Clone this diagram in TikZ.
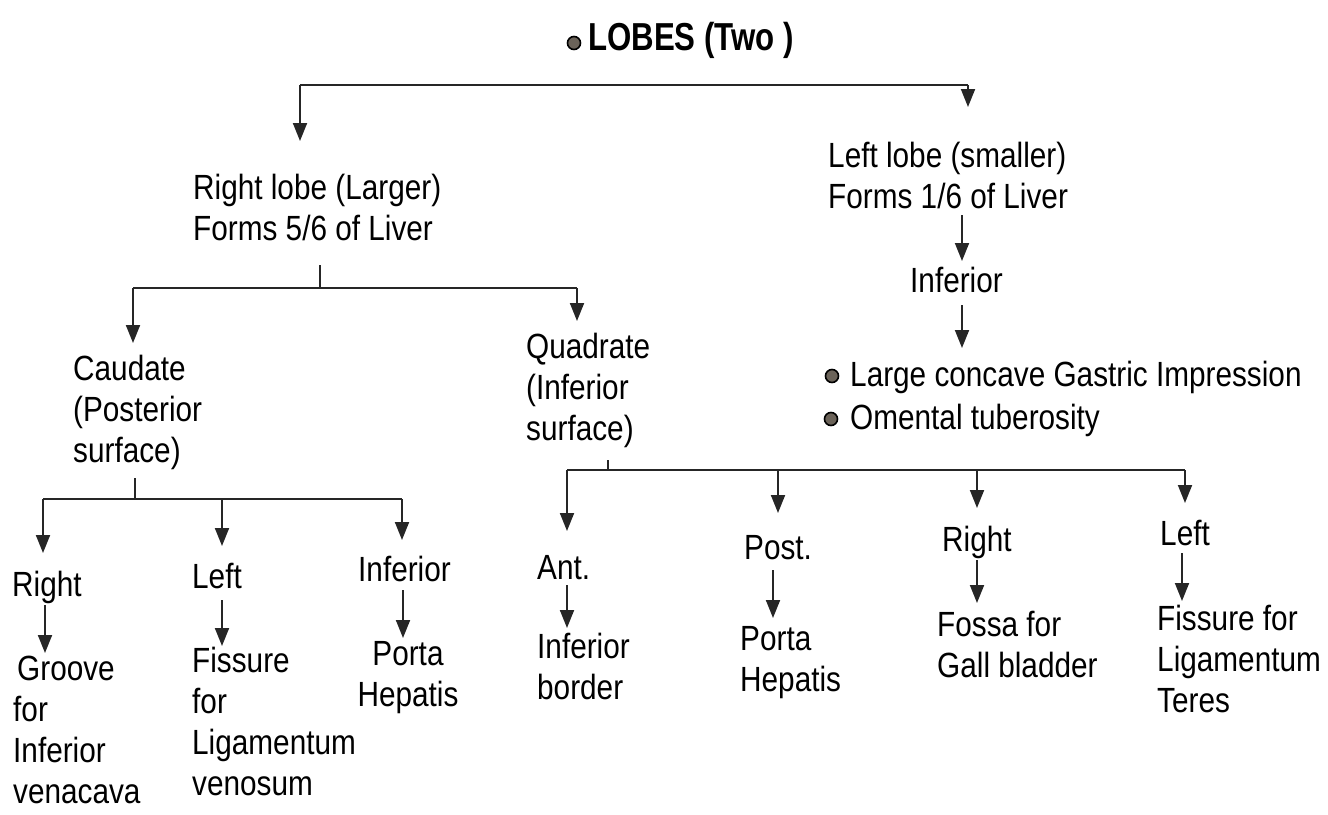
\documentclass[tikz,border=0pt]{standalone}
\usepackage{fontspec}
\setmainfont[FakeStretch=0.85]{Liberation Sans}
\newfontfamily\titlefont[FakeStretch=0.8]{Liberation Sans}
\usetikzlibrary{arrows.meta}
\definecolor{dotgrey}{rgb}{0.42,0.39,0.35}
\begin{document}
\begin{tikzpicture}[x=1pt,y=-1pt,
  txt/.style={anchor=north west, inner sep=0pt, align=left, font=\fontsize{35}{41}\selectfont},
  ctxt/.style={txt, anchor=north, align=center},
  conn/.style={line width=1.9pt, draw=black!85},
  arr/.style={conn, -{Triangle[length=18pt,width=14pt]}},
  dot/.style={circle, draw=black, line width=1.6pt, fill=dotgrey, minimum size=13pt, inner sep=0pt}]
\useasboundingbox (0,0) rectangle (1328,814);

% ---------- top ----------
\node[dot] (lobesdot) at (574,43) {};
\node[anchor=west, inner sep=0pt, font=\titlefont\bfseries\fontsize{39}{41}\selectfont] (lobes) at (588,40) {LOBES (Two )};
\coordinate (t1) at (300,85);
\coordinate (t2) at (968,85);
\coordinate (t1e) at (300,141);
\coordinate (t2e) at (968,107);
\draw[conn] (t1) -- (t2);
\draw[arr] (t1) -- (t1e);
\draw[arr] (t2) -- (t2e);

% ---------- lobes ----------
\node[txt] (rl) at (193,174) {Right lobe (Larger)\\Forms 5/6 of Liver};
\node[txt] (ll) at (828,142) {Left lobe (smaller)\\Forms 1/6 of Liver};

% ---------- left lobe branch ----------
\coordinate (la1) at (962,215);
\coordinate (la1e) at (962,261);
\draw[arr] (la1) -- (la1e);
\node[txt] (linf) at (910,267) {Inferior};
\coordinate (la2) at (962,305);
\coordinate (la2e) at (962,348);
\draw[arr] (la2) -- (la2e);
\node[dot] (d1) at (832,376) {};
\node[txt, anchor=west] (g1) at (850,377) {Large concave Gastric Impression};
\node[dot] (d2) at (831,419) {};
\node[txt, anchor=west] (g2) at (850,420) {Omental tuberosity};

% ---------- right lobe branch ----------
\coordinate (rs1) at (320,265);
\coordinate (rs2) at (320,288);
\coordinate (rb1) at (133,288);
\coordinate (rb2) at (577,288);
\coordinate (rb1e) at (133,343);
\coordinate (rb2e) at (577,321);
\draw[conn] (rs1) -- (rs2);
\draw[conn] (rb1) -- (rb2);
\draw[arr] (rb1) -- (rb1e);
\draw[arr] (rb2) -- (rb2e);

\node[txt] (cau) at (73,355) {Caudate\\(Posterior\\surface)};
\node[txt] (quad) at (526,333) {Quadrate\\(Inferior\\surface)};

% ---------- caudate branch ----------
\coordinate (cs1) at (135,478);
\coordinate (cs2) at (135,499);
\coordinate (cb1) at (43,499);
\coordinate (cb2) at (222,499);
\coordinate (cb3) at (402,499);
\coordinate (cb1e) at (43,553);
\coordinate (cb2e) at (222,546);
\coordinate (cb3e) at (402,540);
\draw[conn] (cs1) -- (cs2);
\draw[conn] (cb1) -- (cb3);
\draw[arr] (cb1) -- (cb1e);
\draw[arr] (cb2) -- (cb2e);
\draw[arr] (cb3) -- (cb3e);

\node[txt] (cr) at (12,571) {Right};
\node[txt] (cl) at (192,563) {Left};
\node[txt] (ci) at (358,556) {Inferior};

\coordinate (ca1) at (45,605);   \coordinate (ca1e) at (45,653);
\coordinate (ca2) at (222,600);  \coordinate (ca2e) at (222,646);
\coordinate (ca3) at (403,590);  \coordinate (ca3e) at (403,638);
\draw[arr] (ca1) -- (ca1e);
\draw[arr] (ca2) -- (ca2e);
\draw[arr] (ca3) -- (ca3e);

\node[txt] (groove) at (13,656) {\hspace*{4pt}Groove\\for\\Inferior\\venacava};
\node[txt] (fisv) at (192,647) {Fissure\\for\\Ligamentum\\venosum};
\node[ctxt] (porta1) at (408,641) {Porta\\Hepatis};

% ---------- quadrate branch ----------
\coordinate (qs1) at (608,460);
\coordinate (qs2) at (608,470);
\coordinate (qb1) at (567,470);
\coordinate (qb2) at (778,470);
\coordinate (qb3) at (977,470);
\coordinate (qb4) at (1185,470);
\coordinate (qb1e) at (567,531);
\coordinate (qb2e) at (778,513);
\coordinate (qb3e) at (977,508);
\coordinate (qb4e) at (1185,503);
\draw[conn] (qs1) -- (qs2);
\draw[conn] (qb1) -- (qb4);
\draw[arr] (qb1) -- (qb1e);
\draw[arr] (qb2) -- (qb2e);
\draw[arr] (qb3) -- (qb3e);
\draw[arr] (qb4) -- (qb4e);

\node[txt] (qant) at (537,555) {Ant.};
\node[txt] (qpost) at (744,535) {Post.};
\node[txt] (qright) at (942,526) {Right};
\node[txt] (qleft) at (1160,520) {Left};

\coordinate (qa1) at (567,585);  \coordinate (qa1e) at (567,628);
\coordinate (qa2) at (773,570);  \coordinate (qa2e) at (773,618);
\coordinate (qa3) at (977,560);  \coordinate (qa3e) at (977,603);
\coordinate (qa4) at (1182,553); \coordinate (qa4e) at (1182,601);
\draw[arr] (qa1) -- (qa1e);
\draw[arr] (qa2) -- (qa2e);
\draw[arr] (qa3) -- (qa3e);
\draw[arr] (qa4) -- (qa4e);

\node[txt] (infb) at (537,633) {Inferior\\border};
\node[txt] (porta2) at (740,626) {Porta\\Hepatis};
\node[txt] (fossa) at (937,611) {Fossa for\\Gall bladder};
\node[txt] (fist) at (1157,605) {Fissure for\\Ligamentum\\Teres};
\end{tikzpicture}
\end{document}
